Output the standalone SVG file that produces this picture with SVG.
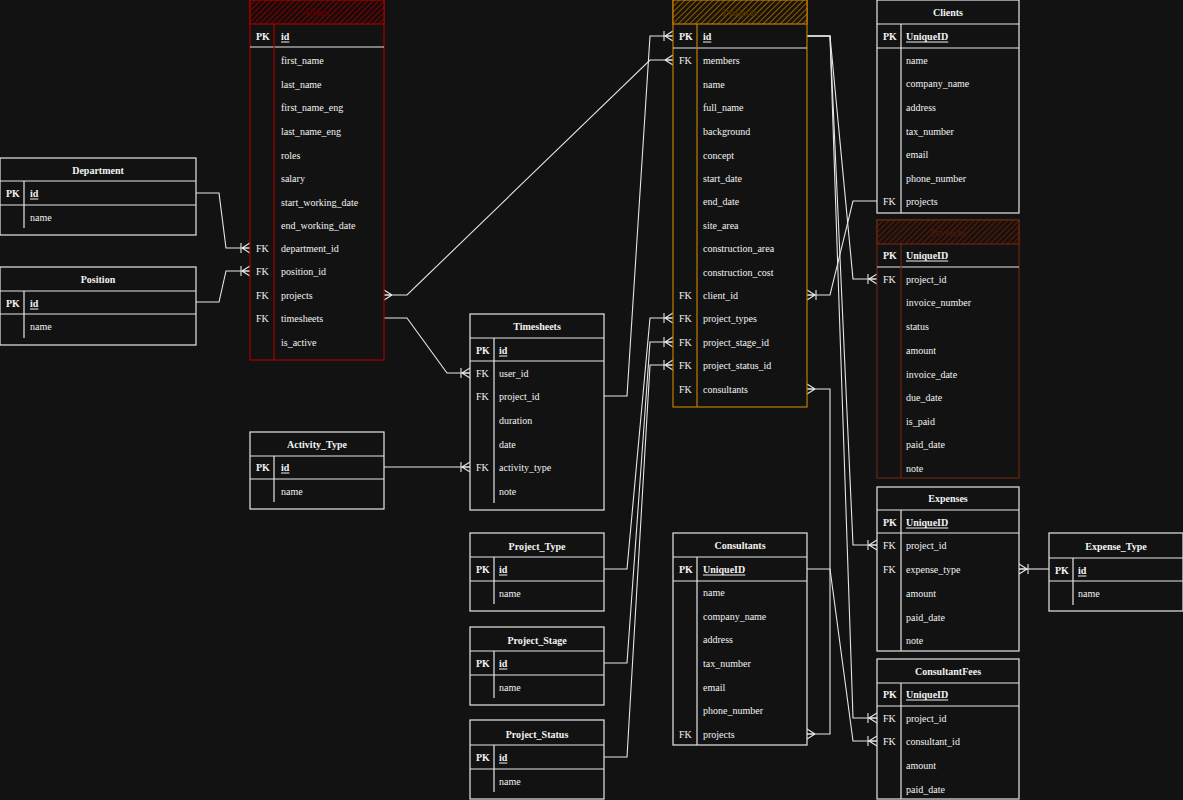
<svg xmlns="http://www.w3.org/2000/svg" width="1183" height="800" viewBox="0 0 1183 800">
<defs>
<style>
.t{font-family:"Liberation Serif","Times New Roman",serif;font-size:10px;fill:#f2f2f2;dominant-baseline:central}
.b{font-weight:bold}
.u{text-decoration:underline;font-weight:bold}
.c{text-anchor:middle}
.box{fill:#121212;stroke:#e6e6e6;stroke-width:1.2}
.ln{stroke:#e6e6e6;stroke-width:1.2;fill:none}
.con{stroke:#e6e6e6;stroke-width:1.1;fill:none}
</style>
<pattern id="hR" patternUnits="userSpaceOnUse" width="4" height="4" patternTransform="rotate(45)"><rect width="4" height="4" fill="#1a0a0a"/><line x1="0" y1="0" x2="0" y2="4" stroke="#a30000" stroke-width="1.4"/></pattern>
<pattern id="hO" patternUnits="userSpaceOnUse" width="4" height="4" patternTransform="rotate(45)"><rect width="4" height="4" fill="#1a140a"/><line x1="0" y1="0" x2="0" y2="4" stroke="#c17c00" stroke-width="1.4"/></pattern>
<pattern id="hB" patternUnits="userSpaceOnUse" width="4" height="4" patternTransform="rotate(45)"><rect width="4" height="4" fill="#1a0f0b"/><line x1="0" y1="0" x2="0" y2="4" stroke="#6a2510" stroke-width="1.4"/></pattern>
<marker id="mm" viewBox="-12 -7 14 14" refX="0" refY="0" markerWidth="14" markerHeight="14" orient="auto-start-reverse" markerUnits="userSpaceOnUse"><path d="M-8,0 L0,-5 M-8,0 L0,0 M-8,0 L0,5 M-9,-5 L-9,5" stroke="#e6e6e6" stroke-width="1.1" fill="none"/></marker>
<marker id="mn" viewBox="-12 -7 14 14" refX="0" refY="0" markerWidth="14" markerHeight="14" orient="auto-start-reverse" markerUnits="userSpaceOnUse"><path d="M-8,0 L0,-5 M-8,0 L0,0 M-8,0 L0,5" stroke="#e6e6e6" stroke-width="1.1" fill="none"/></marker>
</defs>
<rect width="1183" height="800" fill="#121212"/>

<g id="connectors">
<path class="con" d="M196,193 L219,193 L226,248 L250,248" marker-end="url(#mm)"/>
<path class="con" d="M196,302 L219,302 L226,271 L250,271" marker-end="url(#mm)"/>
<path class="con" d="M384,295 L407,295 L650,60 L673,60" marker-start="url(#mn)" marker-end="url(#mn)"/>
<path class="con" d="M384,318 L407,318 L447,373 L470,373" marker-end="url(#mm)"/>
<path class="con" d="M604,396 L627,396 L650,36 L673,36" marker-end="url(#mm)"/>
<path class="con" d="M384,467 L470,467" marker-end="url(#mm)"/>
<path class="con" d="M604,569 L627,569 L650,318 L673,318" marker-end="url(#mm)"/>
<path class="con" d="M604,663 L627,663 L650,342 L673,342" marker-end="url(#mm)"/>
<path class="con" d="M604,757 L627,757 L650,365 L673,365" marker-end="url(#mm)"/>
<path class="con" d="M877,201 L853,201 L830,295 L807,295" marker-end="url(#mm)"/>
<path class="con" d="M807,36 L830,36 L853,279 L877,279" marker-end="url(#mm)"/>
<path class="con" d="M807,36 L830,36 L853,545 L877,545" marker-end="url(#mm)"/>
<path class="con" d="M807,36 L830,36 L853,718 L877,718" marker-end="url(#mm)"/>
<path class="con" d="M807,569 L830,569 L853,741 L877,741" marker-end="url(#mm)"/>
<path class="con" d="M807,389 L830,389 L830,734 L807,734" marker-start="url(#mn)" marker-end="url(#mn)"/>
<path class="con" d="M1049,569 L1019,569" marker-end="url(#mm)"/>
</g>

<g id="users">
<rect x="250" y="0" width="134" height="360" fill="#121212" stroke="#a30000" stroke-width="1.2"/>
<rect x="250" y="0" width="134" height="24" fill="url(#hR)" stroke="#a30000" stroke-width="1.2"/>
<text class="t b c" x="317" y="12" style="fill:#5a0000">Users</text>
<line x1="250" y1="47" x2="384" y2="47" class="ln"/>
<line x1="274" y1="24" x2="274" y2="360" stroke="#a30000" stroke-width="1.2"/>
<text class="t b" x="256" y="36">PK</text><text class="t u" x="281" y="36">id</text>
<text class="t" x="281" y="60">first_name</text>
<text class="t" x="281" y="84">last_name</text>
<text class="t" x="281" y="107">first_name_eng</text>
<text class="t" x="281" y="131">last_name_eng</text>
<text class="t" x="281" y="155">roles</text>
<text class="t" x="281" y="178">salary</text>
<text class="t" x="281" y="202">start_working_date</text>
<text class="t" x="281" y="225">end_working_date</text>
<text class="t" x="256" y="248">FK</text><text class="t" x="281" y="248">department_id</text>
<text class="t" x="256" y="271">FK</text><text class="t" x="281" y="271">position_id</text>
<text class="t" x="256" y="295">FK</text><text class="t" x="281" y="295">projects</text>
<text class="t" x="256" y="318">FK</text><text class="t" x="281" y="318">timesheets</text>
<text class="t" x="281" y="342">is_active</text>
</g>

<g id="projects">
<rect x="673" y="0" width="134" height="407" fill="#121212" stroke="#c17c00" stroke-width="1.2"/>
<rect x="673" y="0" width="134" height="24" fill="url(#hO)" stroke="#c17c00" stroke-width="1.2"/>
<text class="t b c" x="740" y="12" style="fill:#4a3000">Projects</text>
<line x1="673" y1="48" x2="807" y2="48" class="ln"/>
<line x1="697" y1="24" x2="697" y2="407" stroke="#c17c00" stroke-width="1.2"/>
<text class="t b" x="679" y="36">PK</text><text class="t u" x="703" y="36">id</text>
<text class="t" x="679" y="60">FK</text><text class="t" x="703" y="60">members</text>
<text class="t" x="703" y="84">name</text>
<text class="t" x="703" y="107">full_name</text>
<text class="t" x="703" y="131">background</text>
<text class="t" x="703" y="155">concept</text>
<text class="t" x="703" y="178">start_date</text>
<text class="t" x="703" y="201">end_date</text>
<text class="t" x="703" y="225">site_area</text>
<text class="t" x="703" y="248">construction_area</text>
<text class="t" x="703" y="272">construction_cost</text>
<text class="t" x="679" y="295">FK</text><text class="t" x="703" y="295">client_id</text>
<text class="t" x="679" y="318">FK</text><text class="t" x="703" y="318">project_types</text>
<text class="t" x="679" y="342">FK</text><text class="t" x="703" y="342">project_stage_id</text>
<text class="t" x="679" y="365">FK</text><text class="t" x="703" y="365">project_status_id</text>
<text class="t" x="679" y="389">FK</text><text class="t" x="703" y="389">consultants</text>
</g>

<g id="clients">
<rect x="877" y="0" width="142" height="213" class="box"/>
<text class="t b c" x="948" y="12">Clients</text>
<line x1="877" y1="24" x2="1019" y2="24" class="ln"/>
<line x1="877" y1="48" x2="1019" y2="48" class="ln"/>
<line x1="901" y1="24" x2="901" y2="213" class="ln"/>
<text class="t b" x="883" y="36">PK</text><text class="t u" x="906" y="36">UniqueID</text>
<text class="t" x="906" y="60">name</text>
<text class="t" x="906" y="83">company_name</text>
<text class="t" x="906" y="107">address</text>
<text class="t" x="906" y="131">tax_number</text>
<text class="t" x="906" y="154">email</text>
<text class="t" x="906" y="178">phone_number</text>
<text class="t" x="883" y="201">FK</text><text class="t" x="906" y="201">projects</text>
</g>

<g id="invoices">
<rect x="877" y="220" width="142" height="258" fill="#121212" stroke="#6a2510" stroke-width="1.2"/>
<rect x="877" y="220" width="142" height="24" fill="url(#hB)" stroke="#6a2510" stroke-width="1.2"/>
<text class="t b c" x="948" y="232" style="fill:#4a1505">Invoices</text>
<line x1="877" y1="267" x2="1019" y2="267" class="ln"/>
<line x1="901" y1="244" x2="901" y2="478" stroke="#6a2510" stroke-width="1.2"/>
<text class="t b" x="883" y="255">PK</text><text class="t u" x="906" y="255">UniqueID</text>
<text class="t" x="883" y="279">FK</text><text class="t" x="906" y="279">project_id</text>
<text class="t" x="906" y="302">invoice_number</text>
<text class="t" x="906" y="326">status</text>
<text class="t" x="906" y="350">amount</text>
<text class="t" x="906" y="374">invoice_date</text>
<text class="t" x="906" y="397">due_date</text>
<text class="t" x="906" y="421">is_paid</text>
<text class="t" x="906" y="444">paid_date</text>
<text class="t" x="906" y="468">note</text>
</g>

<g id="expenses">
<rect x="877" y="487" width="142" height="164" class="box"/>
<text class="t b c" x="948" y="498">Expenses</text>
<line x1="877" y1="510" x2="1019" y2="510" class="ln"/>
<line x1="877" y1="533" x2="1019" y2="533" class="ln"/>
<line x1="901" y1="510" x2="901" y2="651" class="ln"/>
<text class="t b" x="883" y="522">PK</text><text class="t u" x="906" y="522">UniqueID</text>
<text class="t" x="883" y="545">FK</text><text class="t" x="906" y="545">project_id</text>
<text class="t" x="883" y="569">FK</text><text class="t" x="906" y="569">expense_type</text>
<text class="t" x="906" y="593">amount</text>
<text class="t" x="906" y="617">paid_date</text>
<text class="t" x="906" y="640">note</text>
</g>

<g id="consultantfees">
<rect x="877" y="659" width="142" height="140" class="box"/>
<text class="t b c" x="948" y="671">ConsultantFees</text>
<line x1="877" y1="683" x2="1019" y2="683" class="ln"/>
<line x1="877" y1="706" x2="1019" y2="706" class="ln"/>
<line x1="901" y1="683" x2="901" y2="799" class="ln"/>
<text class="t b" x="883" y="694">PK</text><text class="t u" x="906" y="694">UniqueID</text>
<text class="t" x="883" y="718">FK</text><text class="t" x="906" y="718">project_id</text>
<text class="t" x="883" y="741">FK</text><text class="t" x="906" y="741">consultant_id</text>
<text class="t" x="906" y="765">amount</text>
<text class="t" x="906" y="789">paid_date</text>
</g>

<g id="expense_type">
<rect x="1049" y="533" width="134" height="78" class="box"/>
<text class="t b c" x="1116" y="546">Expense_Type</text>
<line x1="1049" y1="558" x2="1183" y2="558" class="ln"/>
<line x1="1049" y1="581" x2="1183" y2="581" class="ln"/>
<line x1="1073" y1="558" x2="1073" y2="605" class="ln"/>
<text class="t b" x="1055" y="570">PK</text><text class="t u" x="1078" y="570">id</text>
<text class="t" x="1078" y="593">name</text>
</g>

<g id="department">
<rect x="0" y="158" width="196" height="77" class="box"/>
<text class="t b c" x="98" y="170">Department</text>
<line x1="0" y1="181" x2="196" y2="181" class="ln"/>
<line x1="0" y1="205" x2="196" y2="205" class="ln"/>
<line x1="24" y1="181" x2="24" y2="228" class="ln"/>
<text class="t b" x="6" y="193">PK</text><text class="t u" x="30" y="193">id</text>
<text class="t" x="30" y="217">name</text>
</g>

<g id="position">
<rect x="0" y="267" width="196" height="78" class="box"/>
<text class="t b c" x="98" y="279">Position</text>
<line x1="0" y1="291" x2="196" y2="291" class="ln"/>
<line x1="0" y1="314" x2="196" y2="314" class="ln"/>
<line x1="24" y1="291" x2="24" y2="338" class="ln"/>
<text class="t b" x="6" y="303">PK</text><text class="t u" x="30" y="303">id</text>
<text class="t" x="30" y="326">name</text>
</g>

<g id="timesheets">
<rect x="470" y="314" width="134" height="196" class="box"/>
<text class="t b c" x="537" y="326">Timesheets</text>
<line x1="470" y1="338" x2="604" y2="338" class="ln"/>
<line x1="470" y1="361" x2="604" y2="361" class="ln"/>
<line x1="494" y1="338" x2="494" y2="503" class="ln"/>
<text class="t b" x="476" y="350">PK</text><text class="t u" x="499" y="350">id</text>
<text class="t" x="476" y="373">FK</text><text class="t" x="499" y="373">user_id</text>
<text class="t" x="476" y="396">FK</text><text class="t" x="499" y="396">project_id</text>
<text class="t" x="499" y="420">duration</text>
<text class="t" x="499" y="444">date</text>
<text class="t" x="476" y="467">FK</text><text class="t" x="499" y="467">activity_type</text>
<text class="t" x="499" y="491">note</text>
</g>

<g id="activity_type">
<rect x="250" y="432" width="134" height="77" class="box"/>
<text class="t b c" x="317" y="444">Activity_Type</text>
<line x1="250" y1="456" x2="384" y2="456" class="ln"/>
<line x1="250" y1="479" x2="384" y2="479" class="ln"/>
<line x1="274" y1="456" x2="274" y2="502" class="ln"/>
<text class="t b" x="256" y="467">PK</text><text class="t u" x="281" y="467">id</text>
<text class="t" x="281" y="491">name</text>
</g>

<g id="project_type">
<rect x="470" y="533" width="134" height="78" class="box"/>
<text class="t b c" x="537" y="546">Project_Type</text>
<line x1="470" y1="557" x2="604" y2="557" class="ln"/>
<line x1="470" y1="581" x2="604" y2="581" class="ln"/>
<line x1="494" y1="557" x2="494" y2="604" class="ln"/>
<text class="t b" x="476" y="569">PK</text><text class="t u" x="499" y="569">id</text>
<text class="t" x="499" y="593">name</text>
</g>

<g id="project_stage">
<rect x="470" y="627" width="134" height="78" class="box"/>
<text class="t b c" x="537" y="640">Project_Stage</text>
<line x1="470" y1="651" x2="604" y2="651" class="ln"/>
<line x1="470" y1="675" x2="604" y2="675" class="ln"/>
<line x1="494" y1="651" x2="494" y2="698" class="ln"/>
<text class="t b" x="476" y="663">PK</text><text class="t u" x="499" y="663">id</text>
<text class="t" x="499" y="687">name</text>
</g>

<g id="project_status">
<rect x="470" y="720" width="134" height="79" class="box"/>
<text class="t b c" x="537" y="734">Project_Status</text>
<line x1="470" y1="745" x2="604" y2="745" class="ln"/>
<line x1="470" y1="769" x2="604" y2="769" class="ln"/>
<line x1="494" y1="745" x2="494" y2="792" class="ln"/>
<text class="t b" x="476" y="757">PK</text><text class="t u" x="499" y="757">id</text>
<text class="t" x="499" y="781">name</text>
</g>

<g id="consultants">
<rect x="673" y="533" width="134" height="212" class="box"/>
<text class="t b c" x="740" y="545">Consultants</text>
<line x1="673" y1="557" x2="807" y2="557" class="ln"/>
<line x1="673" y1="581" x2="807" y2="581" class="ln"/>
<line x1="697" y1="557" x2="697" y2="745" class="ln"/>
<text class="t b" x="679" y="569">PK</text><text class="t u" x="703" y="569">UniqueID</text>
<text class="t" x="703" y="592">name</text>
<text class="t" x="703" y="616">company_name</text>
<text class="t" x="703" y="639">address</text>
<text class="t" x="703" y="663">tax_number</text>
<text class="t" x="703" y="687">email</text>
<text class="t" x="703" y="710">phone_number</text>
<text class="t" x="679" y="734">FK</text><text class="t" x="703" y="734">projects</text>
</g>
</svg>
